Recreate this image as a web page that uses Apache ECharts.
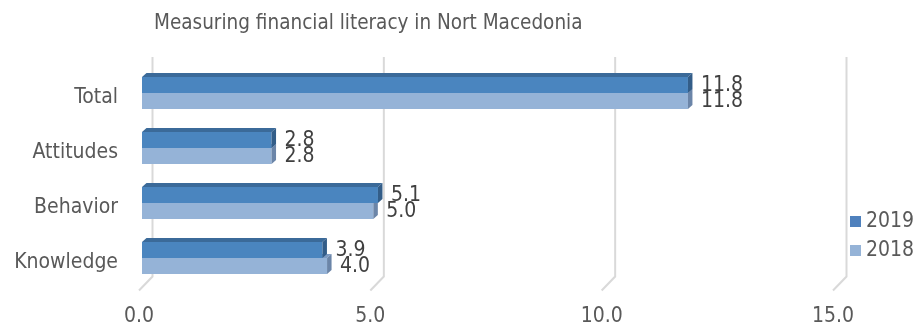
<!DOCTYPE html>
<html>
<head>
<meta charset="utf-8">
<script src="https://cdn.jsdelivr.net/npm/echarts@6/dist/echarts.min.js"></script>
<style>
  html, body { margin: 0; padding: 0; background: #fff; }
  #chart { width: 915px; height: 329px; }
</style>
</head>
<body>
<div id="chart"></div>
<script>
// Survey areas, listed bottom to top
const categories = ['Knowledge', 'Behavior', 'Attitudes', 'Total'];
// Scores per year
const values2019 = [3.9, 5.1, 2.8, 11.8];
const values2018 = [4.0, 5.0, 2.8, 11.8];
// Value axis ticks
const axisTicks = [0, 5, 10, 15];

const FONT = "'DejaVu Sans Condensed', 'DejaVu Sans', sans-serif";
const TEXT = '#595959';
const VALUE_TEXT = '#404040';

// depth of the bar prisms and of the back wall
const BAR_DX = 4.5, BAR_DY = 4;
const WALL_DX = 13.5, WALL_DY = 14;

function barRenderer(upper, colors) {
  return function (params, api) {
    const cat = api.value(1);
    const v = api.value(0);
    const p0 = api.coord([0, cat]);
    const p1 = api.coord([v, cat]);
    const band = api.size([0, 1])[1];
    const h = band * 0.29;
    const gc = p0[1] - 5;
    const yA = upper ? gc - h : gc;
    const yB = yA + h;
    const xs = p0[0] + 3;
    const xe = p1[0] + 3;
    return {
      type: 'group',
      children: [
        { type: 'rect', shape: { x: xs, y: yA, width: xe - xs, height: h },
          style: { fill: colors.front } },
        { type: 'polygon', shape: { points: [[xs, yA], [xs + BAR_DX, yA - BAR_DY], [xe + BAR_DX, yA - BAR_DY], [xe, yA]] },
          style: { fill: colors.top } },
        { type: 'polygon', shape: { points: [[xe, yA], [xe + BAR_DX, yA - BAR_DY], [xe + BAR_DX, yB - BAR_DY], [xe, yB]] },
          style: { fill: colors.side } },
        { type: 'text', z2: 10,
          style: { text: v.toFixed(1), x: xe + 13, y: (yA + yB) / 2 + 1, verticalAlign: 'middle',
                   fill: VALUE_TEXT, font: '21px ' + FONT } }
      ]
    };
  };
}

const chart = echarts.init(document.getElementById('chart'));
chart.setOption({
  animation: false,
  backgroundColor: '#fff',
  title: {
    text: 'Measuring financial literacy in Nort Macedonia',
    left: 149, top: 8,
    textStyle: { color: TEXT, fontFamily: FONT, fontSize: 20.5, fontWeight: 'normal' }
  },
  legend: {
    data: ['2019', '2018'],
    orient: 'vertical',
    left: 845, top: 206,
    itemWidth: 11, itemHeight: 11, itemGap: 8,
    icon: 'rect',
    textStyle: { color: TEXT, fontFamily: FONT, fontSize: 21 }
  },
  grid: { left: 139, right: 82, top: 70.5, bottom: 38.5 },
  xAxis: {
    type: 'value', min: 0, max: 15, interval: 5,
    axisLine: { show: false }, axisTick: { show: false }, splitLine: { show: false },
    axisLabel: { color: TEXT, fontFamily: FONT, fontSize: 21, margin: 16,
                 formatter: v => v.toFixed(1) }
  },
  yAxis: {
    type: 'category', data: categories,
    axisLine: { show: false }, axisTick: { show: false },
    axisLabel: { color: TEXT, fontFamily: FONT, fontSize: 21, margin: 21 }
  },
  series: [
    {
      // back wall gridlines with their floor edges
      name: 'wall', type: 'custom', z: 0, silent: true,
      data: axisTicks.map(t => [t, 0]),
      encode: { x: 0, y: 1 },
      renderItem: function (params, api) {
        const cs = params.coordSys;
        const x = api.coord([api.value(0), 0])[0];
        const yBack = cs.y + cs.height - WALL_DY;
        return {
          type: 'polyline',
          shape: { points: [[x + WALL_DX, cs.y - 13.5], [x + WALL_DX, yBack], [x, cs.y + cs.height]] },
          style: { stroke: '#d9d9d9', lineWidth: 2, fill: null }
        };
      }
    },
    {
      name: '2018', type: 'custom', z: 2,
      itemStyle: { color: '#95b3d7' },
      data: values2018.map((v, i) => [v, i]),
      encode: { x: 0, y: 1 },
      renderItem: barRenderer(false, { front: '#95b3d7', top: '#7d9bc2', side: '#6b85a8' })
    },
    {
      name: '2019', type: 'custom', z: 3,
      itemStyle: { color: '#4f81bd' },
      data: values2019.map((v, i) => [v, i]),
      encode: { x: 0, y: 1 },
      renderItem: barRenderer(true, { front: '#4a85bf', top: '#3b6a99', side: '#335d88' })
    }
  ]
});
</script>
</body>
</html>
